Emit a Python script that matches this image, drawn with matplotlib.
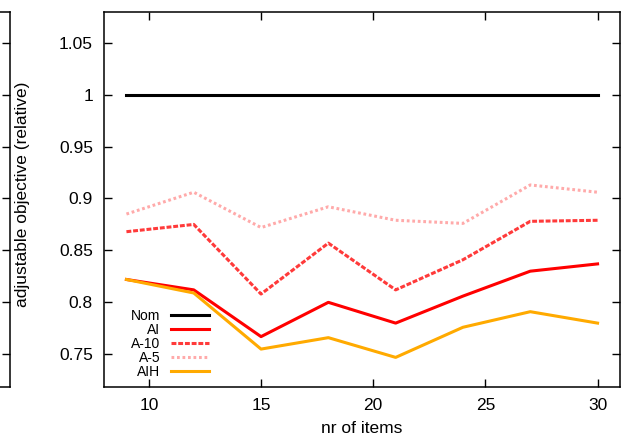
import matplotlib
matplotlib.use("Agg")
import matplotlib.pyplot as plt

plt.rcParams["font.family"] = ["Liberation Sans", "DejaVu Sans"]

# data
items = [9, 12, 15, 18, 21, 24, 27, 30]
nom = [1.0, 1.0, 1.0, 1.0, 1.0, 1.0, 1.0, 1.0]
ai = [0.822, 0.812, 0.767, 0.800, 0.780, 0.806, 0.830, 0.837]
a10 = [0.868, 0.875, 0.808, 0.857, 0.812, 0.841, 0.878, 0.879]
a5 = [0.885, 0.906, 0.872, 0.892, 0.879, 0.876, 0.913, 0.906]
aih = [0.822, 0.809, 0.755, 0.766, 0.747, 0.776, 0.791, 0.780]

yticks = [0.75, 0.8, 0.85, 0.9, 0.95, 1.0, 1.05]
ytick_labels = ["0.75", "0.8", "0.85", "0.9", "0.95", "1", "1.05"]
xticks = [10, 15, 20, 25, 30]

W, H = 625, 446
fig = plt.figure(figsize=(W / 100, H / 100), dpi=100)

left, right, top, bottom = 104, 620, 12, 387
rect = [left / W, 1 - bottom / H, (right - left) / W, (bottom - top) / H]
ylim = (0.7185, 1.0795)

# right edge of a neighbouring panel, cut off at the left border
ax0 = fig.add_axes([-0.5, rect[1], 0.5 + 10 / W, rect[3]])
ax0.patch.set_visible(False)
ax0.set_ylim(*ylim)
ax0.set_yticks(yticks)
ax0.tick_params(axis="y", left=False, right=True, labelleft=False,
                direction="in", length=6, width=1)
ax0.set_xticks([])
for s in ax0.spines.values():
    s.set_linewidth(1.1)

ax = fig.add_axes(rect)
ax.plot(items, nom, color="black", lw=2.2, label="Nom")
ax.plot(items, ai, color="#ff0000", lw=2.2, label="AI")
ax.plot(items, a10, color="#ff3a3a", lw=2.2, ls=(0, (1.6, 0.6)), label="A-10")
ax.plot(items, a5, color="#ffaaaa", lw=2.2, ls=(0, (0.9, 0.9)), label="A-5")
ax.plot(items, aih, color="#ffaa00", lw=2.2, label="AIH")

ax.set_xlim(8, 31)
ax.set_ylim(*ylim)
ax.set_xticks(xticks)
ax.set_yticks(yticks)
ax.set_yticklabels(ytick_labels)
ax.tick_params(direction="in", length=6, width=1, labelsize=12.5,
               top=True, right=True, pad=8)
for s in ax.spines.values():
    s.set_linewidth(1.1)

ax.set_xlabel("nr of items", fontsize=12.5, labelpad=6)
ax.set_ylabel("adjustable objective (relative)", fontsize=12.5)
ax.yaxis.set_label_coords(-0.143, 0.515)

ax.legend(loc="lower left", frameon=False, markerfirst=False, fontsize=10,
          handlelength=2.7, handletextpad=0.8, labelspacing=0.0,
          borderpad=0, borderaxespad=0, bbox_to_anchor=(0.052, 0.022))

fig.savefig("out.png", dpi=100)
